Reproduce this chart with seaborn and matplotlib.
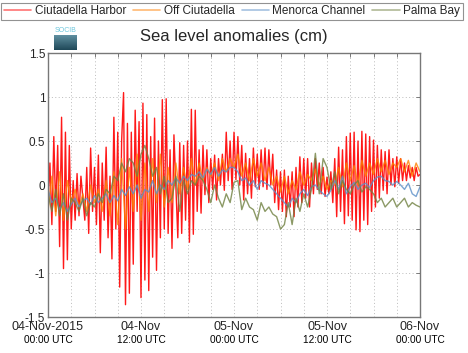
import numpy as np
import pandas as pd
import matplotlib
matplotlib.use("Agg")
import matplotlib.pyplot as plt
import matplotlib.dates as mdates
import matplotlib.transforms as mtransforms
import seaborn as sns

series_names = ["Ciutadella Harbor", "Off Ciutadella", "Menorca Channel", "Palma Bay"]
series_colors = ["#ff0000", "#ff8000", "#5b8fc8", "#6f8040"]
title_text = "Sea level anomalies (cm)"
start_time = "2015-11-04 00:00"

# Ciutadella Harbor, 15-min samples (one row per hour, hours 0..48)
harbor = [
    -0.2, 0.25, -0.45, 0.55,
    -0.3, 0.45, -0.7, 0.77,
    -0.95, 0.6, -0.85, 0.45,
    -0.5, 0.05, -0.4, 0.13,
    -0.35, 0.1, -0.15, -0.4,
    0.2, -0.55, 0.42, -0.3,
    0.2, -0.45, 0.34, -0.77,
    0.25, -0.4, 0.43, -0.6,
    0.1, -0.84, 0.77, -0.5,
    0.6, -1.16, 0.5, 1.05,
    -1.36, 0.7, -1.23, 0.6,
    -0.9, 0.85, -0.3, 0.72,
    -1.28, 0.93, -1.08, 0.8,
    -1.2, 0.55, -0.82, 0.76,
    -0.97, 0.5, -0.6, 0.97,
    -0.5, 0.98, -0.55, 0.4,
    -0.72, 0.57, 0.0, -0.6,
    0.48, -0.55, 0.45, -0.4,
    0.5, -0.65, 0.86, -0.56,
    0.85, -0.3, 0.4, -0.32,
    0.45, -0.11, 0.4, -0.2,
    0.3, -0.05, 0.34, -0.17,
    0.3, 0.0, 0.35, -0.06,
    0.6, 0.05, 0.5, -0.05,
    0.6, 0.06, 0.55, 0.0,
    0.45, -0.17, 0.36, -0.1,
    0.3, -0.15, 0.42, -0.02,
    0.35, -0.05, 0.4, -0.02,
    0.42, -0.05, 0.4, 0.0,
    0.35, -0.2, 0.17, -0.28,
    0.15, -0.3, 0.17, -0.36,
    0.1, -0.25, 0.15, -0.36,
    0.2, -0.25, 0.32, -0.2,
    0.3, -0.15, 0.3, -0.25,
    0.25, -0.1, 0.3, -0.05,
    0.25, -0.1, 0.2, -0.13,
    0.09, -0.1, 0.15, -0.2,
    0.3, -0.36, 0.43, -0.3,
    0.4, -0.44, 0.55, -0.35,
    0.59, -0.4, 0.6, -0.51,
    0.5, -0.53, 0.61, -0.4,
    0.58, -0.45, 0.55, -0.3,
    0.51, -0.25, 0.45, -0.15,
    0.4, -0.06, 0.38, -0.1,
    0.4, 0.0, 0.3, -0.02,
    0.32, 0.02, 0.3, 0.05,
    0.25, 0.05, 0.22, 0.08,
    0.2, 0.05, 0.2, 0.1,
    0.12,
]

# Off Ciutadella, 30-min samples
off_ciutadella = [
    -0.3, 0.1, -0.35, 0.15, -0.4, 0.05, -0.2, -0.05, -0.25, -0.1, -0.3, 0.0,
    -0.2, -0.05, -0.3, 0.05, -0.35, 0.15, -0.45, 0.3, -0.5, 0.2, -0.3, 0.35,
    -0.4, 0.25, -0.3, 0.3, -0.2, 0.35, -0.25, 0.2, -0.2, 0.25, -0.1, 0.2,
    -0.05, 0.3, 0.0, 0.25, 0.05, 0.2, 0.1, 0.25, 0.05, 0.3, 0.15, 0.3,
    0.2, 0.35, 0.1, 0.25, 0.05, 0.3, 0.1, 0.25, 0.05, 0.2, 0.0, 0.1,
    -0.08, 0.1, -0.1, 0.05, -0.05, 0.15, 0.0, 0.12, 0.05, 0.18, 0.0, 0.1,
    -0.05, 0.05, 0.0, 0.2, -0.02, 0.25, 0.05, 0.22, 0.0, 0.28, 0.1, 0.25,
    0.12, 0.3, 0.15, 0.28, 0.12, 0.25, 0.2, 0.3, 0.15, 0.28, 0.1, 0.25,
    0.15,
]

# Menorca Channel, 30-min samples
menorca_channel = [
    -0.05, -0.2, -0.15, -0.28, -0.2, -0.3, -0.22, -0.15, -0.25, -0.18, -0.15, -0.22,
    -0.12, -0.2, -0.15, -0.1, -0.2, -0.12, -0.18, -0.05, -0.12, -0.02, -0.1, 0.0,
    -0.15, -0.05, -0.08, 0.05, -0.1, 0.0, -0.05, 0.05, 0.0, 0.08, 0.02, 0.1,
    0.05, 0.12, 0.1, 0.15, 0.08, 0.18, 0.12, 0.2, 0.1, 0.17, 0.15, 0.2,
    0.2, 0.15, 0.05, 0.08, 0.0, 0.05, -0.05, 0.05, 0.02, 0.0, -0.05, -0.1,
    -0.15, -0.2, -0.25, -0.15, -0.2, -0.1, -0.05, -0.12, -0.02, 0.0, -0.06, -0.1,
    -0.13, -0.06, 0.05, -0.05, 0.1, -0.1, -0.02, 0.03, -0.05, 0.0, 0.02, -0.03,
    0.05, 0.09, 0.1, 0.05, 0.04, 0.0, 0.04, 0.0, -0.05, 0.02, -0.1, -0.13,
    -0.02,
]

# Palma Bay, 30-min samples
palma_bay = [
    -0.1, -0.3, -0.05, -0.35, -0.1, -0.4, -0.15, -0.2, -0.3, -0.15, -0.35, -0.2,
    -0.25, -0.1, -0.2, -0.05, -0.1, 0.1, 0.05, 0.25, 0.15, 0.3, 0.25, 0.1,
    0.35, 0.45, 0.3, 0.1, 0.2, -0.1, 0.1, -0.2, -0.15, 0.1, -0.3, 0.05,
    -0.1, 0.05, 0.0, 0.1, 0.05, -0.05, -0.2, 0.0, -0.15, -0.25, -0.1, -0.2,
    0.03, 0.05, -0.28, -0.15, -0.25, -0.28, -0.4, -0.2, -0.3, -0.25, -0.33, -0.36,
    -0.5, -0.45, -0.2, -0.45, -0.15, -0.3, -0.1, -0.25, -0.05, 0.36, -0.1, 0.3,
    0.2, -0.05, 0.15, -0.1, 0.05, -0.05, -0.1, 0.0, 0.05, -0.08, -0.02, -0.05,
    -0.1, -0.2, -0.15, -0.25, -0.2, -0.15, -0.25, -0.2, -0.15, -0.25, -0.2, -0.23,
    -0.25,
]

y_ticks = [-1.5, -1, -0.5, 0, 0.5, 1, 1.5]
y_tick_labels = ["-1.5", "-1", "-0.5", "0", "0.5", "1", "1.5"]
x_tick_main = ["04-Nov-2015", "04-Nov", "05-Nov", "05-Nov", "06-Nov"]
x_tick_sub = ["00:00 UTC", "12:00 UTC", "00:00 UTC", "12:00 UTC", "00:00 UTC"]

t0 = pd.Timestamp(start_time)
frames = []
for name, vals, step in [
    (series_names[0], harbor, 15),
    (series_names[1], off_ciutadella, 30),
    (series_names[2], menorca_channel, 30),
    (series_names[3], palma_bay, 30),
]:
    times = t0 + pd.to_timedelta(np.arange(len(vals)) * step, unit="min")
    frames.append(pd.DataFrame({"time": times, "value": vals, "station": name}))
df = pd.concat(frames, ignore_index=True)

sns.set_theme(style="white")
plt.rcParams["font.family"] = ["Liberation Sans", "DejaVu Sans"]

fig = plt.figure(figsize=(4.68, 3.53), dpi=100)
ax = fig.add_axes([48 / 468, 1 - 317 / 353, (420 - 48) / 468, (317 - 53) / 353])

sns.lineplot(data=df, x="time", y="value", hue="station", hue_order=series_names,
             palette=dict(zip(series_names, series_colors)), linewidth=1.0,
             alpha=0.8, ax=ax, legend=True, estimator=None)
ax.lines[0].set_alpha(0.9)

ax.set_xlim(t0, t0 + pd.Timedelta(hours=48))
ax.set_ylim(-1.5, 1.5)
ax.set_xlabel("")
ax.set_ylabel("")

ax.set_yticks(y_ticks)
ax.set_yticklabels(y_tick_labels, fontsize=8.5)

major_locs = [t0 + pd.Timedelta(hours=12 * i) for i in range(5)]
ax.set_xticks(major_locs)
ax.set_xticklabels(x_tick_main, fontsize=9)
ax.xaxis.set_minor_locator(mdates.HourLocator(byhour=range(0, 24, 3)))

ax.tick_params(axis="both", which="both", direction="in", top=True, right=True,
               length=3, width=0.6, color="#666666", pad=2)
ax.tick_params(axis="x", which="major", pad=3)
ax.tick_params(axis="y", which="major", pad=2)

ax.grid(True, axis="y", which="major", linestyle=(0, (1, 2.5)), color="#bbbbbb", linewidth=0.7)
ax.grid(True, axis="x", which="both", linestyle=(0, (1, 2.5)), color="#bbbbbb", linewidth=0.7)

for s in ax.spines.values():
    s.set_color("#777777")
    s.set_linewidth(1.0)

trans = mtransforms.blended_transform_factory(ax.transData, ax.transAxes)
for loc, sub in zip(major_locs, x_tick_sub):
    ax.text(mdates.date2num(loc), -0.087, sub, transform=trans, ha="center", va="center",
            fontsize=7.3, color="black")

ax.set_title(title_text, fontsize=12, pad=9)

handles, labels = ax.get_legend_handles_labels()
ax.legend_.remove()
leg = fig.legend(handles, labels, loc="upper center", bbox_to_anchor=(0.4957, 0.992),
                 ncol=4, fontsize=8.5, frameon=True, fancybox=False, edgecolor="#777777",
                 handlelength=2.3, columnspacing=0.6, handletextpad=0.3,
                 borderpad=0.22, borderaxespad=0.0)
leg.get_frame().set_linewidth(0.8)
for lh in leg.get_lines():
    lh.set_alpha(0.55)
    lh.set_linewidth(1.2)

# small SOCIB logo placeholder
logo_ax = fig.add_axes([54 / 468, 1 - 50 / 353, 23 / 468, 15 / 353])
grad = np.linspace(0, 1, 50).reshape(-1, 1)
logo_ax.imshow(grad, aspect="auto", cmap=matplotlib.colors.LinearSegmentedColormap.from_list(
    "socib", ["#5f8fa0", "#1f4858"]))
logo_ax.set_axis_off()
fig.text(65.5 / 468, 1 - 30 / 353, "SOCIB", fontsize=5, color="#6cc6dc", ha="center", va="center")

fig.savefig("out.png", dpi=100)
